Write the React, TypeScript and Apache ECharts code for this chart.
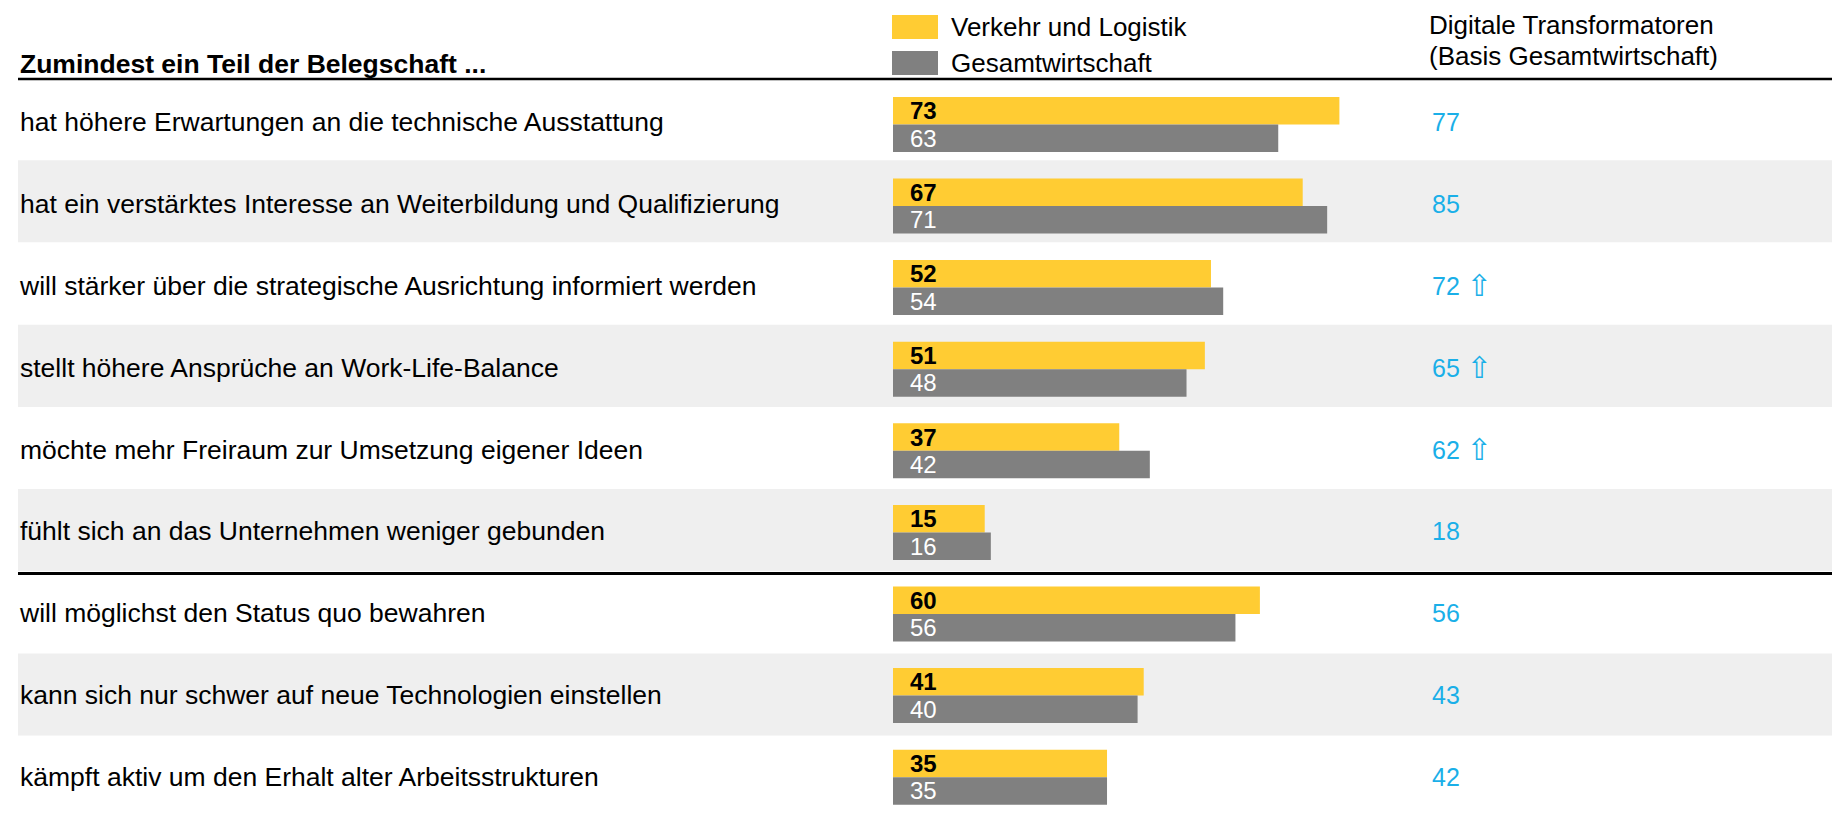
import React, { useEffect, useRef } from "react";
import * as echarts from "echarts";

const categories = [
  "hat höhere Erwartungen an die technische Ausstattung",
  "hat ein verstärktes Interesse an Weiterbildung und Qualifizierung",
  "will stärker über die strategische Ausrichtung informiert werden",
  "stellt höhere Ansprüche an Work-Life-Balance",
  "möchte mehr Freiraum zur Umsetzung eigener Ideen",
  "fühlt sich an das Unternehmen weniger gebunden",
  "will möglichst den Status quo bewahren",
  "kann sich nur schwer auf neue Technologien einstellen",
  "kämpft aktiv um den Erhalt alter Arbeitsstrukturen",
];
const verkehrLogistik = [73, 67, 52, 51, 37, 15, 60, 41, 35];
const gesamtwirtschaft = [63, 71, 54, 48, 42, 16, 56, 40, 35];
const digitaleTransformatoren = [77, 85, 72, 65, 62, 18, 56, 43, 42];
const significantUp = [false, false, true, true, true, false, false, false, false];

const seriesNames = ["Verkehr und Logistik", "Gesamtwirtschaft"];
const headerTitle = "Zumindest ein Teil der Belegschaft ...";
const rightHeader = ["Digitale Transformatoren", "(Basis Gesamtwirtschaft)"];

const FONT = "'Liberation Sans', Arial, Helvetica, sans-serif";
const YELLOW = "#FFCC33";
const GRAY = "#808080";
const BAND = "#EFEFEF";
const BLUE = "#1AAFE8";

export default function App() {
  const ref = useRef<HTMLDivElement>(null);
  useEffect(() => {
    if (!ref.current) return;
    const chart = echarts.init(ref.current, null, { renderer: "svg" });
    const hiddenX = (gridIndex: number) => ({
      type: "value",
      gridIndex,
      min: 0,
      max: 1,
      show: false,
    });
    const option: any = {
      animation: false,
      backgroundColor: "#ffffff",
      textStyle: { fontFamily: FONT },
      legend: {
        orient: "vertical",
        left: 892,
        top: 14,
        padding: 0,
        itemWidth: 46,
        itemHeight: 24,
        itemGap: 10,
        icon: "rect",
        selectedMode: false,
        data: seriesNames,
        textStyle: {
          fontFamily: FONT,
          fontSize: 26,
          color: "#000",
          padding: [0, 0, 0, 8],
        },
      },
      grid: [
        // background bands
        { left: 18, right: 0, top: 78, height: 740, containLabel: false },
        // bars
        { left: 893, width: 611.5, top: 83.6, height: 735.75, containLabel: false },
        // category labels
        { left: 18, right: 0, top: 81, height: 742, containLabel: false },
        // digital transformer values
        { left: 1432, right: 0, top: 81, height: 742, containLabel: false },
      ],
      xAxis: [
        hiddenX(0),
        { type: "value", gridIndex: 1, min: 0, max: 100, show: false },
        hiddenX(2),
        hiddenX(3),
      ],
      yAxis: [
        {
          type: "category",
          gridIndex: 0,
          inverse: true,
          data: categories,
          axisLine: { show: false },
          axisTick: { show: false },
          axisLabel: { show: false },
          splitLine: { show: false },
          splitArea: { show: true, areaStyle: { color: ["#ffffff", BAND] } },
        },
        {
          type: "category",
          gridIndex: 1,
          inverse: true,
          data: categories,
          show: false,
        },
        {
          type: "category",
          gridIndex: 2,
          inverse: true,
          data: categories,
          axisLine: { show: false },
          axisTick: { show: false },
          splitLine: { show: false },
          axisLabel: {
            inside: true,
            margin: 2,
            fontSize: 26.5,
            color: "#000",
            fontFamily: FONT,
          },
        },
        {
          type: "category",
          gridIndex: 3,
          inverse: true,
          data: digitaleTransformatoren.map(String),
          axisLine: { show: false },
          axisTick: { show: false },
          splitLine: { show: false },
          axisLabel: {
            inside: true,
            margin: 0,
            fontSize: 25,
            color: BLUE,
            fontFamily: FONT,
            formatter: (v: string, i: number) =>
              significantUp[i] ? `{v|${v}}{a|⇧}` : `{v|${v}}`,
            rich: {
              v: { fontSize: 25, color: BLUE, fontFamily: FONT },
              a: {
                fontSize: 30,
                color: BLUE,
                fontFamily: "'DejaVu Sans', sans-serif",
                padding: [0, 0, 0, 7],
              },
            },
          },
        },
      ],
      series: [
        {
          name: seriesNames[0],
          type: "bar",
          xAxisIndex: 1,
          yAxisIndex: 1,
          data: verkehrLogistik,
          barWidth: 27.5,
          barGap: "0%",
          itemStyle: { color: YELLOW },
          label: {
            show: true,
            position: "insideLeft",
            distance: 17,
            fontSize: 24,
            fontWeight: "bold",
            color: "#000",
            fontFamily: FONT,
          },
        },
        {
          name: seriesNames[1],
          type: "bar",
          xAxisIndex: 1,
          yAxisIndex: 1,
          data: gesamtwirtschaft,
          barWidth: 27.5,
          barGap: "0%",
          itemStyle: { color: GRAY },
          label: {
            show: true,
            position: "insideLeft",
            distance: 17,
            fontSize: 24,
            color: "#fff",
            fontFamily: FONT,
          },
        },
      ],
      graphic: [
        {
          type: "text",
          left: 20,
          top: 50,
          z: 100,
          style: {
            text: headerTitle,
            fontSize: 26.5,
            fontWeight: "bold",
            fill: "#000",
            fontFamily: FONT,
          },
        },
        {
          type: "text",
          left: 1429,
          top: 9,
          z: 100,
          style: {
            text: rightHeader.join("\n"),
            fontSize: 26,
            lineHeight: 31,
            fill: "#000",
            fontFamily: FONT,
          },
        },
        {
          type: "line",
          z: 100,
          shape: { x1: 18, y1: 79, x2: 1832, y2: 79 },
          style: { stroke: "#000", lineWidth: 2.5 },
        },
        {
          type: "line",
          z: 100,
          shape: { x1: 18, y1: 573.5, x2: 1832, y2: 573.5 },
          style: { stroke: "#000", lineWidth: 3 },
        },
      ],
    };
    chart.setOption(option);
    return () => chart.dispose();
  }, []);
  return (
    <div
      ref={ref}
      style={{ position: "absolute", left: 0, top: 0, width: 1832, height: 818 }}
    />
  );
}
